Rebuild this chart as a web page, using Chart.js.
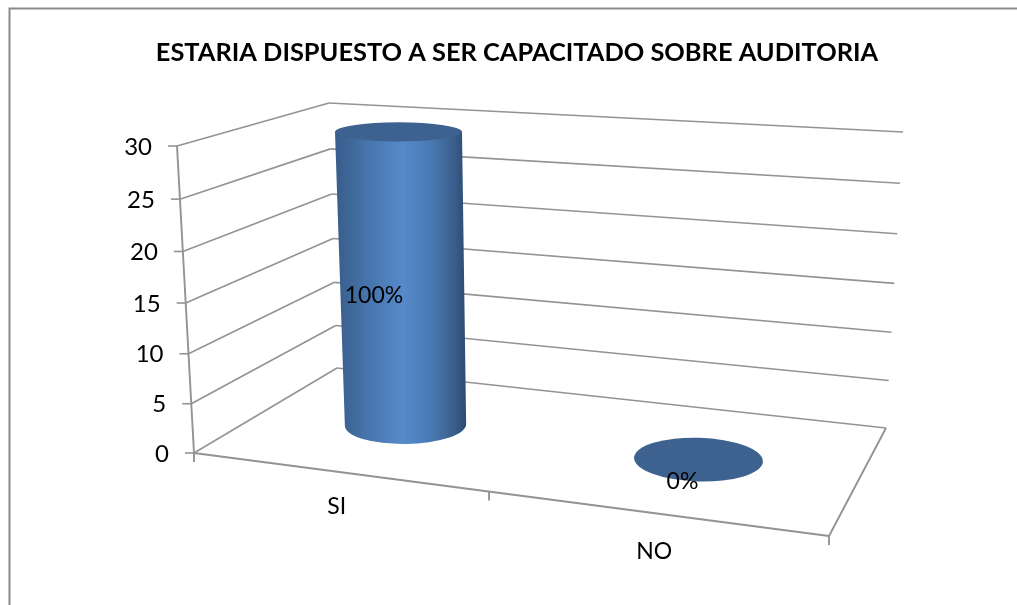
<!DOCTYPE html>
<html>
<head>
<meta charset="utf-8">
<style>
html,body{margin:0;padding:0;background:#fff;overflow:hidden}
#wrap{position:absolute;left:0;top:0;width:1017px;height:605px}
</style>
<script src="https://cdn.jsdelivr.net/npm/chart.js@4"></script>
</head>
<body>
<div id="wrap"><canvas id="c" width="1017" height="605"></canvas></div>
<script>
const titleText = 'ESTARIA DISPUESTO A SER CAPACITADO SOBRE AUDITORIA';
const categories = ['SI', 'NO'];
const seriesValues = [30, 0];
const percentLabels = ['100%', '0%'];
const yMin = 0, yMax = 30, yStep = 5;

const FONT = 'Lato, "Open Sans", sans-serif';
const GRID = '#939393';

/* 3D frame of the plot: corners of the walls and floor at value 0 and at the axis maximum */
const FRAME = {
  front:     {x0: 194, y0: 453, x1: 177, y1: 146},
  backLeft:  {x0: 337, y0: 368, x1: 329, y1: 103},
  backRight: {x0: 886, y0: 428, x1: 903, y1: 132},
  frontRight:{x: 829, y: 536}
};
const lerp = (a, b, t) => a + (b - a) * t;
const edge = (e, t) => ({x: lerp(e.x0, e.x1, t), y: lerp(e.y0, e.y1, t)});

/* y axis with the slight foreshortening of the tilted view; labels follow the slanted axis */
const PERSP = -0.0446;
class PerspectiveScale extends Chart.LinearScale {
  getPixelForValue(v) {
    const s = (v - this.min) / (this.max - this.min);
    const t = (1 + PERSP) * s / (1 + PERSP * s);
    return this.bottom - t * (this.bottom - this.top);
  }
  _computeLabelItems(area) {
    const items = super._computeLabelItems(area);
    items.forEach(it => {
      const y = it.options.translation[1];
      const t = (this.bottom - y) / (this.bottom - this.top);
      it.options.translation[0] += 17 * (1 - t);
      it.options.translation[1] += 1;
    });
    return items;
  }
}
PerspectiveScale.id = 'perspective';
PerspectiveScale.defaults = Chart.LinearScale.defaults;

/* category axis whose labels follow the slanted front edge of the floor */
class SlantCategoryScale extends Chart.CategoryScale {
  _computeLabelItems(area) {
    const items = super._computeLabelItems(area);
    items.forEach(it => {
      const x = it.options.translation[0];
      it.options.translation[1] += (x - this.left) * 0.142;
    });
    return items;
  }
}
SlantCategoryScale.id = 'slantCategory';
SlantCategoryScale.defaults = Chart.CategoryScale.defaults;
Chart.register(PerspectiveScale, SlantCategoryScale);

function line(ctx, a, b) { ctx.beginPath(); ctx.moveTo(a.x, a.y); ctx.lineTo(b.x, b.y); ctx.stroke(); }

const framePlugin = {
  id: 'frame3d',
  afterLayout(chart) {
    chart.titleBlock.left = 17;
    chart.titleBlock.right = chart.width;
  },
  beforeDatasetsDraw(chart) {
    const {ctx, scales: {y, x}} = chart;
    ctx.save();
    ctx.strokeStyle = GRID; ctx.lineWidth = 1.6;
    y.ticks.forEach(tk => {
      const t = (y.bottom - y.getPixelForValue(tk.value)) / (y.bottom - y.top);
      const f = edge(FRAME.front, t), bl = edge(FRAME.backLeft, t), br = edge(FRAME.backRight, t);
      line(ctx, f, bl); line(ctx, bl, br);
      line(ctx, {x: f.x - 9, y: f.y}, f);          // y tick mark
    });
    ctx.lineWidth = 1.9;
    const f0 = edge(FRAME.front, 0), f1 = edge(FRAME.front, 1), br0 = edge(FRAME.backRight, 0);
    line(ctx, f0, f1);
    line(ctx, f0, FRAME.frontRight);
    line(ctx, FRAME.frontRight, br0);
    line(ctx, f0, {x: f0.x, y: f0.y + 9});
    line(ctx, FRAME.frontRight, {x: FRAME.frontRight.x, y: FRAME.frontRight.y + 9});
    // middle category tick on the front floor edge
    const um = 0.4646;
    const m = {x: lerp(f0.x, FRAME.frontRight.x, um), y: lerp(f0.y, FRAME.frontRight.y, um)};
    line(ctx, m, {x: m.x, y: m.y + 9});
    ctx.restore();
  },
  afterDatasetsDraw(chart) {
    const {ctx, scales: {y, x}} = chart;
    const meta = chart.getDatasetMeta(0);
    const f0 = edge(FRAME.front, 0), b0 = edge(FRAME.backLeft, 0), r0 = edge(FRAME.backRight, 0);
    meta.data.forEach((bar, i) => {
      const u = (bar.x - x.left) / (x.right - x.left);
      const t = (y.bottom - bar.y) / (y.bottom - y.top);
      // centre of the cylinder foot on the floor, half way in depth
      const cx = lerp((f0.x + b0.x) / 2, (FRAME.frontRight.x + r0.x) / 2, u) - (6.5 + 6 * u);
      const cy = lerp((f0.y + b0.y) / 2, (FRAME.frontRight.y + r0.y) / 2, u) - (3 + 2 * u);
      const rxB = bar.width / 2 * (0.925 + 0.12 * u);
      const ryB = rxB * (0.302 + 0.048 * u);
      const rot = (u - 0.4) * 5 * Math.PI / 180;
      const topX = cx - 7 * t, topY = cy - 293 * t;
      const rxT = lerp(rxB, bar.width / 2, t), ryT = lerp(ryB, rxT * 0.15, t);
      ctx.save();
      if (t > 0) {
        const g = ctx.createLinearGradient(cx - rxB - 6, 0, cx + rxB, 0);
        g.addColorStop(0, '#3a5f8e');
        g.addColorStop(0.22, '#4674ab');
        g.addColorStop(0.5, '#568aca');
        g.addColorStop(0.72, '#4a7ab4');
        g.addColorStop(0.9, '#3b5f8d');
        g.addColorStop(1, '#2e4a70');
        ctx.fillStyle = g;
        ctx.beginPath();
        ctx.moveTo(topX - rxT, topY);
        ctx.lineTo(cx - rxB, cy);
        ctx.ellipse(cx, cy, rxB, ryB, rot, Math.PI, 0, true);
        ctx.lineTo(topX + rxT, topY);
        ctx.closePath();
        ctx.fill();
      }
      ctx.fillStyle = '#3d6290';
      ctx.beginPath();
      ctx.ellipse(topX, topY, rxT, ryT, t > 0 ? 0 : rot, 0, Math.PI * 2);
      ctx.fill();
      ctx.fillStyle = '#000';
      ctx.font = '23px ' + FONT;
      ctx.textAlign = 'center'; ctx.textBaseline = 'middle';
      const mx = (cx + topX) / 2, my = (cy + topY) / 2;
      ctx.fillText(percentLabels[i], mx + lerp(-28, -16, (u - 0.25) * 2), my + lerp(17.5, 22, (u - 0.25) * 2));
      ctx.restore();
    });
  },
  afterDraw(chart) {
    const {ctx} = chart;
    ctx.save();
    ctx.strokeStyle = '#8a8a8a'; ctx.lineWidth = 2;
    ctx.beginPath();
    ctx.moveTo(9.5, 605); ctx.lineTo(9.5, 8.5); ctx.lineTo(1017, 8.5);
    ctx.stroke();
    ctx.restore();
  }
};

new Chart(document.getElementById('c').getContext('2d'), {
  type: 'bar',
  data: {
    labels: categories,
    datasets: [{data: seriesValues, backgroundColor: 'rgba(0,0,0,0)', borderWidth: 0,
                barPercentage: 0.4, categoryPercentage: 1}]
  },
  options: {
    responsive: false, animation: false,
    layout: {padding: {left: 0, right: 204, top: 0, bottom: 0}},
    plugins: {
      legend: {display: false}, tooltip: {enabled: false},
      title: {display: true, text: titleText, color: '#000',
              font: {family: FONT, size: 25.4, weight: 'bold', lineHeight: 1.2},
              padding: {top: 37.5, bottom: 78}}
    },
    scales: {
      x: {type: 'slantCategory', grid: {display: false, drawTicks: false}, border: {display: false},
          ticks: {color: '#000', font: {family: FONT, size: 23}, padding: 17, maxRotation: 0},
          afterFit(s) { s.height = 152; }},
      y: {type: 'perspective', min: yMin, max: yMax, grid: {display: false, drawTicks: false}, border: {display: false},
          ticks: {stepSize: yStep, color: '#000', font: {family: FONT, size: 24}, padding: 26},
          afterFit(s) { s.width = 178; }}
    }
  },
  plugins: [framePlugin]
});
</script>
</body>
</html>
